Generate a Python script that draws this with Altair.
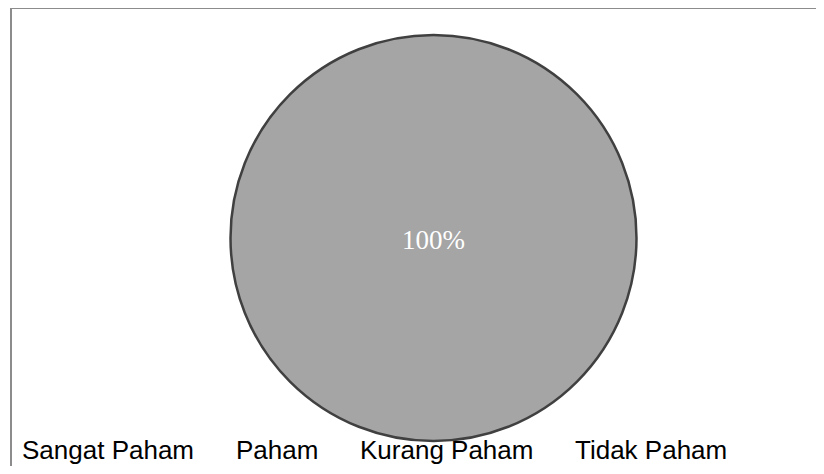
import altair as alt
import pandas as pd

categories = ["Sangat Paham", "Paham", "Kurang Paham", "Tidak Paham"]
values = [0, 0, 100, 0]
colors = ["#4472C4", "#ED7D31", "#A5A5A5", "#FFC000"]

df = pd.DataFrame({"kategori": categories, "nilai": values})

W, H = 805, 458
CX, CY, R = 422.5, 230, 203

frame = alt.Chart(alt.Data(values=[{"f": 1}])).mark_rect(
    filled=False, stroke="#8c8c8c", strokeWidth=2
).encode(
    x=alt.value(0), x2=alt.value(3000), y=alt.value(0), y2=alt.value(3000)
)

base = alt.Chart(df).transform_joinaggregate(
    total="sum(nilai)"
).transform_calculate(
    pct="datum.nilai / datum.total"
).transform_filter("datum.nilai > 0")

pie = base.mark_arc(radius=R, stroke="#404040", strokeWidth=2.5).encode(
    theta=alt.Theta("nilai:Q", stack=True),
    x=alt.value(CX),
    y=alt.value(CY),
    color=alt.Color(
        "kategori:N",
        scale=alt.Scale(domain=categories, range=colors),
        sort=categories,
        legend=alt.Legend(
            title=None,
            orient="none",
            legendX=-15,
            legendY=430,
            direction="horizontal",
            columns=4,
            gridAlign="none",
            columnPadding=15,
            symbolSize=0,
            symbolStrokeWidth=0,
            symbolOpacity=0,
            labelOffset=0,
            labelFont="Liberation Sans",
            labelFontSize=26,
            labelColor="#000000",
            labelLimit=400,
            padding=0,
        ),
    ),
)

label = base.mark_text(
    font="Liberation Serif", fontSize=27, color="#ffffff",
    align="center", baseline="alphabetic"
).encode(
    x=alt.value(CX),
    y=alt.value(CY + 11),
    text=alt.Text("pct:Q", format=".0%"),
)

chart = alt.layer(frame, pie, label).properties(
    width=W, height=H,
    autosize=alt.AutoSizeParams(type="none"),
    padding={"left": 3, "top": 0, "right": 0, "bottom": 0},
    background="#ffffff",
).configure_view(strokeWidth=0)

chart.save("out.html", embed_options={"renderer": "svg", "actions": False})
